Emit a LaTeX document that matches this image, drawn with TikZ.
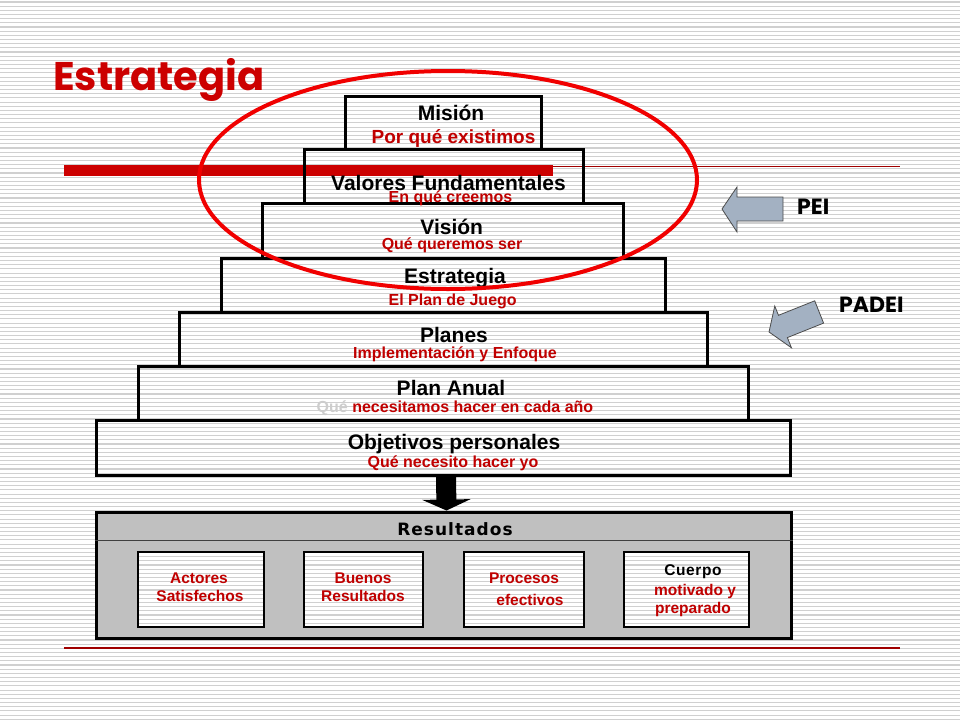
\documentclass[tikz,border=0pt]{standalone}
\usepackage{fontspec}
\setmainfont{Liberation Sans}
\newfontfamily\headfont{Poppins}
\newfontfamily\resfont{DejaVu Sans}[LetterSpace=6]
\usetikzlibrary{positioning,arrows.meta,backgrounds}

\definecolor{subred}{RGB}{192,0,0}
\definecolor{titlered}{RGB}{204,0,0}
\definecolor{ringred}{RGB}{240,0,0}
\definecolor{linered}{RGB}{160,0,0}
\definecolor{stripegray}{RGB}{208,208,208}
\definecolor{quegray}{RGB}{205,205,205}
\definecolor{resgray}{RGB}{192,192,192}
\definecolor{arrowblue}{RGB}{163,177,194}

\begin{document}
\begin{tikzpicture}[x=1pt, y=-1pt,
  tier/.style={draw, line width=3pt, inner sep=0pt, minimum height=54},
  tiertitle/.style={font=\fontsize{21}{25}\selectfont\bfseries, inner sep=0pt, anchor=base},
  tiersub/.style={font=\fontsize{16}{19}\selectfont\bfseries, text=subred, inner sep=0pt, anchor=base},
  resitem/.style={draw, line width=1.3pt, inner sep=0pt, minimum height=75},
  itemtext/.style={font=\fontsize{15.5}{18}\selectfont\bfseries, text=subred, inner sep=0pt, anchor=base},
  sidelabel/.style={font=\headfont\bfseries\fontsize{22}{26}\selectfont, inner sep=0pt, anchor=base west},
  stripe/.style={draw=stripegray, line width=1.1pt},
  pics/sidearrow/.style={code={
    \draw[fill=arrowblue, draw=black!70, line width=0.8pt, line join=miter]
      (0,0) -- (15,-22) -- (15,-12) -- (#1,-12) -- (#1,12) -- (15,12) -- (15,23) -- cycle;}}]
  \useasboundingbox (0,0) rectangle (960,720);

  % title and red rules
  \node[font=\headfont\bfseries\fontsize{40}{46}\selectfont, text=titlered, inner sep=0pt, anchor=base west] (title) at (53,90) {Estrategia};
  \fill[titlered] (64,165) rectangle (553,176);
  \draw[linered, line width=1pt] (553,166) -- (900,166);
  \draw[linered, line width=1.2pt] (64,648) -- (900,648);

  % pyramid
  \node[tier, minimum width=196, minimum height=53] (mision) at (443,122.5) {};
  \node[tier, minimum width=279] (valores) at (443.5,176) {};
  \node[tier, minimum width=361, minimum height=55] (vision) at (442.5,230.5) {};
  \node[tier, minimum width=444] (estrat) at (443,285) {};
  \node[tier, minimum width=528] (planes) at (443,339) {};
  \node[tier, minimum width=610] (anual) at (443,393) {};
  \node[tier, minimum width=694, minimum height=55] (objetivos) at (443,447.5) {};

  \node[tiertitle] (mision-t) at (451,120) {Misión};
  \node[tiersub, font=\fontsize{19}{22}\selectfont\bfseries] (mision-s) at (453.5,143) {Por qué existimos};
  \node[tiertitle] (valores-t) at (448.5,190) {Valores Fundamentales};
  \node[tiersub] (valores-s) at (450.5,202) {En qué creemos};
  \node[tiertitle] (vision-t) at (451.7,234.5) {Visión};
  \node[tiersub] (vision-s) at (452,249.5) {Qué queremos ser};
  \node[tiertitle] (estrat-t) at (455,283) {Estrategia};
  \node[tiersub] (estrat-s) at (452.7,305) {El Plan de Juego};
  \node[tiertitle] (planes-t) at (454,342) {Planes};
  \node[tiersub] (planes-s) at (455,358) {Implementación y Enfoque};
  \node[tiertitle] (anual-t) at (451,395.5) {Plan Anual};
  \node[tiersub] (anual-s) at (455,412) {\textcolor{quegray}{Qué} necesitamos hacer en cada año};
  \node[tiertitle] (objetivos-t) at (454,449) {Objetivos personales};
  \node[tiersub] (objetivos-s) at (453,467) {Qué necesito hacer yo};

  % results
  \node[draw, line width=3pt, inner sep=0pt, minimum width=695, minimum height=126] (res) at (443.5,575) {};
  \coordinate (hdr) at (0,540.5);
  \draw[black!75, line width=0.9pt] (res.west |- hdr) -- (res.east |- hdr);
  \node[font=\resfont\bfseries\fontsize{17}{20}\selectfont, inner sep=0pt, anchor=base] (res-t) at (455,535) {Resultados};

  \node[resitem, minimum width=126] (actores) at (201,589.5) {};
  \node[resitem, minimum width=119] (buenos) at (363.5,589.5) {};
  \node[resitem, minimum width=120] (procesos) at (524,589.5) {};
  \node[resitem, minimum width=125] (cuerpo) at (686.5,589.5) {};

  \node[itemtext] (actores-1) at (199,583) {Actores};
  \node[itemtext] (actores-2) at (200,601.7) {Satisfechos};
  \node[itemtext] (buenos-1) at (363,583) {Buenos};
  \node[itemtext] (buenos-2) at (363,601.7) {Resultados};
  \node[itemtext] (procesos-1) at (524,583) {Procesos};
  \node[itemtext] (procesos-2) at (530,605) {efectivos};
  \node[itemtext, text=black, font=\fontsize{15.5}{18}\selectfont\bfseries\addfontfeature{LetterSpace=4}] (cuerpo-1) at (693,575.7) {Cuerpo};
  \node[itemtext] (cuerpo-2) at (695,595) {motivado y};
  \node[itemtext] (cuerpo-3) at (693,613) {preparado};

  \draw[line width=20pt, -{Triangle[width=48pt,length=11pt]}] ([xshift=3pt]objetivos.south) -- ([xshift=3pt]res.north);

  % side arrows
  \pic at (722,209) {sidearrow=61};
  \pic[rotate=21.8] at (769,332) {sidearrow=54};
  \node[sidelabel] (pei) at (797,214.3) {PEI};
  \node[sidelabel] (padei) at (839,312.7) {PADEI};

  % ring
  \draw[ringred, line width=4pt] (448,180) ellipse [x radius=249, y radius=109];

  \begin{scope}[on background layer]
    \foreach \s in {2,6.17,...,720}
      \draw[stripe] (0,\s) -- (960,\s);
    \fill[resgray] (res.north west) rectangle (res.south east);
    \foreach \b in {actores,buenos,procesos,cuerpo} {
      \begin{scope}
        \clip (\b.north west) rectangle (\b.south east);
        \fill[white] (\b.north west) rectangle (\b.south east);
        \foreach \s in {2,6.17,...,720}
          \draw[stripe] (0,\s) -- (960,\s);
      \end{scope}
    }
  \end{scope}
\end{tikzpicture}
\end{document}
